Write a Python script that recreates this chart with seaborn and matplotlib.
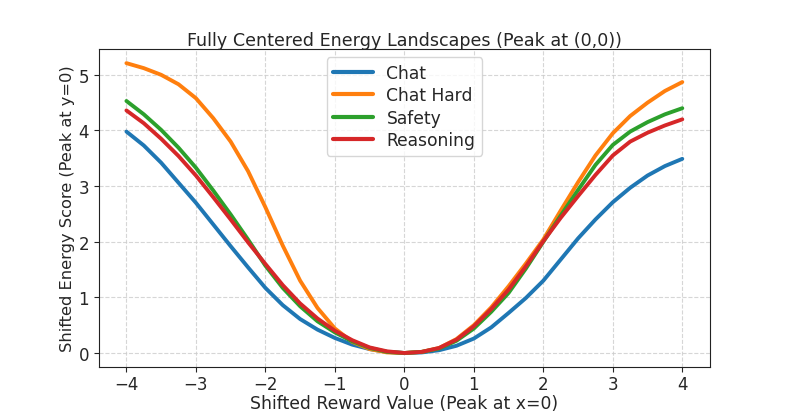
import numpy as np
import pandas as pd
import matplotlib
matplotlib.use("Agg")
import matplotlib.pyplot as plt
import seaborn as sns

x_vals = [-4.0, -3.75, -3.5, -3.25, -3.0, -2.75, -2.5, -2.25, -2.0, -1.75, -1.5, -1.25, -1.0,
          -0.75, -0.5, -0.25, 0.0, 0.25, 0.5, 0.75, 1.0, 1.25, 1.5, 1.75, 2.0, 2.25, 2.5,
          2.75, 3.0, 3.25, 3.5, 3.75, 4.0]

chat = [3.98, 3.73, 3.42, 3.06, 2.70, 2.31, 1.92, 1.54, 1.17, 0.86, 0.61, 0.42, 0.27,
        0.15, 0.07, 0.02, 0.00, 0.01, 0.05, 0.13, 0.26, 0.46, 0.72, 0.99, 1.30, 1.68, 2.06,
        2.40, 2.71, 2.97, 3.19, 3.36, 3.49]

chat_hard = [5.21, 5.12, 5.00, 4.83, 4.58, 4.22, 3.80, 3.27, 2.62, 1.93, 1.30, 0.81, 0.44,
             0.20, 0.07, 0.01, 0.00, 0.02, 0.09, 0.25, 0.50, 0.82, 1.20, 1.61, 2.04, 2.56, 3.07,
             3.55, 3.95, 4.26, 4.50, 4.71, 4.87]

safety = [4.53, 4.29, 4.01, 3.69, 3.33, 2.92, 2.49, 2.04, 1.57, 1.17, 0.84, 0.57, 0.37,
          0.21, 0.09, 0.02, 0.00, 0.02, 0.08, 0.22, 0.44, 0.74, 1.08, 1.52, 2.00, 2.47, 2.93,
          3.38, 3.74, 3.98, 4.15, 4.29, 4.40]

reasoning = [4.36, 4.13, 3.85, 3.54, 3.19, 2.80, 2.40, 1.99, 1.60, 1.22, 0.89, 0.62, 0.40,
             0.23, 0.10, 0.03, 0.00, 0.02, 0.09, 0.24, 0.48, 0.79, 1.14, 1.56, 2.01, 2.43, 2.82,
             3.20, 3.55, 3.80, 3.96, 4.09, 4.20]

series_names = ["Chat", "Chat Hard", "Safety", "Reasoning"]
series_values = [chat, chat_hard, safety, reasoning]

frames = []
for name, vals in zip(series_names, series_values):
    frames.append(pd.DataFrame({"x": x_vals, "y": vals, "Category": name}))
df = pd.concat(frames, ignore_index=True)

sns.set_style("ticks")
plt.rcParams['font.family'] = ['DejaVu Sans']

fig, ax = plt.subplots(figsize=(7.89, 4.14), dpi=100)
fig.subplots_adjust(left=0.125, right=0.9, bottom=0.11, top=0.88)

palette = ["#1f77b4", "#ff7f0e", "#2ca02c", "#d62728"]
sns.lineplot(data=df, x="x", y="y", hue="Category", hue_order=series_names,
             palette=palette, linewidth=2.8, ax=ax, sort=True)

ax.grid(True, linestyle="--", color="#cccccc", alpha=0.8, linewidth=0.8)
ax.set_title("Fully Centered Energy Landscapes (Peak at (0,0))", fontsize=12.6, pad=3)
ax.set_xlabel("Shifted Reward Value (Peak at x=0)", fontsize=12.4, labelpad=1)
ax.set_ylabel("Shifted Energy Score (Peak at y=0)", fontsize=11.7, labelpad=2)
ax.tick_params(axis="x", labelsize=12.0, pad=2)
ax.tick_params(axis="y", labelsize=12.0)
ax.set_xticks([-4, -3, -2, -1, 0, 1, 2, 3, 4])
ax.set_yticks([0, 1, 2, 3, 4, 5])
ax.set_xlim(-4.4, 4.4)
ax.set_ylim(-0.26, 5.47)
for s in ax.spines.values():
    s.set_visible(True)
    s.set_color("#222222")
leg = ax.legend(loc="upper center", fontsize=12.3, title=None,
                labelspacing=0.25, handlelength=2.3, borderpad=0.4)
for line in leg.get_lines():
    line.set_linewidth(3.0)

fig.savefig("out.png", dpi=100)
